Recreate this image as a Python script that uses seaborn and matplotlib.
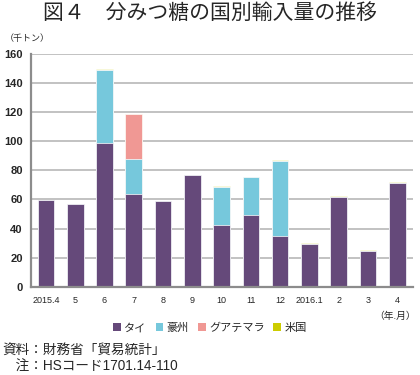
import matplotlib
matplotlib.use("Agg")
import matplotlib.pyplot as plt
import numpy as np
import pandas as pd
import seaborn as sns
from matplotlib.patches import Patch

months = ['2015.4', '5', '6', '7', '8', '9', '10', '11', '12', '2016.1', '2', '3', '4']
thai = [59.6, 56.7, 99.0, 63.8, 58.7, 76.6, 42.6, 49.3, 35.1, 29.6, 61.9, 24.8, 71.5]
australia = [0, 0, 50.0, 24.0, 0, 0, 26.2, 26.1, 51.6, 0, 0, 0, 0]
guatemala = [0, 0, 0, 30.7, 0, 0, 0, 0, 0, 0, 0, 0, 0]
usa = [0.3, 0.3, 0.5, 0.5, 0.4, 0.3, 0.4, 0.3, 0.4, 0.2, 0.3, 0.4, 0.4]

series = ['タイ', '豪州', 'グアテマラ', '米国']
colors = ['#65497a', '#76c8dc', '#f09894', '#cccc00']

sns.set_style("white")
plt.rcParams['font.family'] = ['Liberation Sans', 'Noto Sans CJK JP', 'DejaVu Sans']

df = pd.DataFrame({'month': months, 'タイ': thai, '豪州': australia,
                   'グアテマラ': guatemala, '米国': usa})
cum = df[series].cumsum(axis=1)

fig = plt.figure(figsize=(4.2, 3.75), dpi=100)
ax = fig.add_axes([0.0738, 0.2355, 0.909, 0.6205])

# draw cumulative totals from the top layer down so each layer overlays the next
for name, color in reversed(list(zip(series, colors))):
    sns.barplot(x=df['month'], y=cum[name], color=color, width=0.57,
                edgecolor='white', linewidth=0.5, saturation=1, ax=ax)

ax.set_ylim(0, 160)
ax.set_xlim(-0.51, 12.53)
ax.set_yticks(range(0, 161, 20))
ax.set_xlabel('')
ax.set_ylabel('')
ax.yaxis.grid(True, color='#b8b8b8', linewidth=1.2)
ax.set_axisbelow(True)
for s in ['top', 'right']:
    ax.spines[s].set_visible(False)
for s in ['left', 'bottom']:
    ax.spines[s].set_color('#8c8c8c')
    ax.spines[s].set_linewidth(1.6)
ax.tick_params(axis='y', labelsize=8, length=0, pad=6)
ax.tick_params(axis='x', labelsize=6.5, length=0, pad=7)
for t in ax.get_yticklabels():
    t.set_fontweight('bold')

fig.text(0.5, 0.966, '図４　分みつ糖の国別輸入量の推移', ha='center', va='center', fontsize=15)
fig.text(0.012, 0.898, '（千トン）', ha='left', va='center', fontsize=6.5)
fig.text(0.99, 0.158, '（年.月）', ha='right', va='center', fontsize=7)

handles = [Patch(facecolor=c, edgecolor='none') for c in colors]
fig.legend(handles, series, loc='center', bbox_to_anchor=(0.5, 0.125), ncol=4,
           frameon=False, fontsize=8, handlelength=0.7, handleheight=0.7,
           handletextpad=0.3, columnspacing=0.8)

fig.text(0.005, 0.068, '資料：財務省「貿易統計」', ha='left', va='center', fontsize=9.8)
fig.text(0.005, 0.022, '　注：HSコード1701.14-110', ha='left', va='center', fontsize=9.8)

fig.savefig('out.png', dpi=100)
